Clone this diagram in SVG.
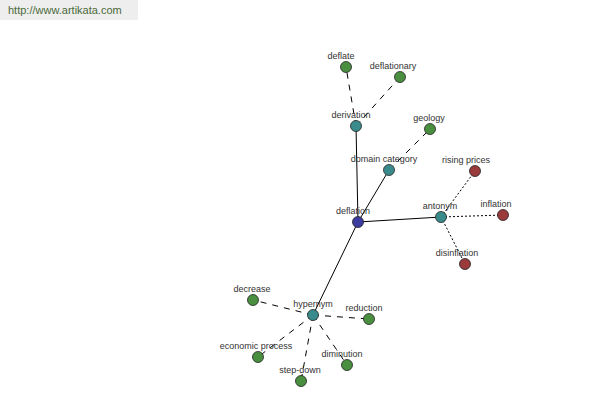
<svg xmlns="http://www.w3.org/2000/svg" width="600" height="400" viewBox="0 0 600 400">
<style>
text{font-family:"Liberation Sans",Arial,sans-serif;font-size:9px;fill:#333;text-anchor:middle}
.n{stroke:#222;stroke-width:0.8}
.g{fill:#4a8f40}.t{fill:#3a8c8c}.r{fill:#9a3a3a}.b{fill:#3c3ca0}
.s{stroke:#000;stroke-width:1;fill:none}
.d{stroke:#000;stroke-width:1;fill:none;stroke-dasharray:6,6}
.o{stroke:#000;stroke-width:1;fill:none;stroke-dasharray:2,2}
</style>
<rect x="0" y="0" width="138" height="20" fill="#eeeeee"/>
<text x="8" y="14" style="text-anchor:start;font-size:11px;fill:#4a6a3a">http://www.artikata.com</text>
<g id="connectors">
<line class="s" x1="358" y1="222" x2="356" y2="126"/>
<line class="s" x1="358" y1="222" x2="389" y2="170"/>
<line class="s" x1="358" y1="222" x2="441" y2="217"/>
<line class="s" x1="358" y1="222" x2="313" y2="315"/>
<line class="d" x1="356" y1="126" x2="346" y2="67"/>
<line class="d" x1="356" y1="126" x2="400" y2="77"/>
<line class="d" x1="389" y1="170" x2="430" y2="129"/>
<line class="o" x1="441" y1="217" x2="475" y2="171"/>
<line class="o" x1="441" y1="217" x2="503" y2="215"/>
<line class="o" x1="441" y1="217" x2="465" y2="264"/>
<line class="d" x1="313" y1="315" x2="253" y2="300"/>
<line class="d" x1="313" y1="315" x2="369" y2="319"/>
<line class="d" x1="313" y1="315" x2="258" y2="357"/>
<line class="d" x1="313" y1="315" x2="301" y2="381"/>
<line class="d" x1="313" y1="315" x2="347" y2="365"/>
</g>
<g id="deflation"><circle class="n b" cx="358" cy="222" r="5.5"/><text x="353" y="214">deflation</text></g>
<g id="derivation"><circle class="n t" cx="356" cy="126" r="5.5"/><text x="351" y="118">derivation</text></g>
<g id="deflate"><circle class="n g" cx="346" cy="67" r="5.5"/><text x="341" y="59">deflate</text></g>
<g id="deflationary"><circle class="n g" cx="400" cy="77" r="5.5"/><text x="393" y="69">deflationary</text></g>
<g id="domain-category"><circle class="n t" cx="389" cy="170" r="5.5"/><text x="384" y="162">domain category</text></g>
<g id="geology"><circle class="n g" cx="430" cy="129" r="5.5"/><text x="429" y="121">geology</text></g>
<g id="antonym"><circle class="n t" cx="441" cy="217" r="5.5"/><text x="440" y="209">antonym</text></g>
<g id="rising-prices"><circle class="n r" cx="475" cy="171" r="5.5"/><text x="466" y="163">rising prices</text></g>
<g id="inflation"><circle class="n r" cx="503" cy="215" r="5.5"/><text x="496" y="207">inflation</text></g>
<g id="disinflation"><circle class="n r" cx="465" cy="264" r="5.5"/><text x="457" y="256">disinflation</text></g>
<g id="hypernym"><circle class="n t" cx="313" cy="315" r="5.5"/><text x="313" y="307">hypernym</text></g>
<g id="decrease"><circle class="n g" cx="253" cy="300" r="5.5"/><text x="252" y="292">decrease</text></g>
<g id="reduction"><circle class="n g" cx="369" cy="319" r="5.5"/><text x="364" y="311">reduction</text></g>
<g id="economic-process"><circle class="n g" cx="258" cy="357" r="5.5"/><text x="256" y="349">economic process</text></g>
<g id="step-down"><circle class="n g" cx="301" cy="381" r="5.5"/><text x="300" y="373">step-down</text></g>
<g id="diminution"><circle class="n g" cx="347" cy="365" r="5.5"/><text x="342" y="357">diminution</text></g>
</svg>
